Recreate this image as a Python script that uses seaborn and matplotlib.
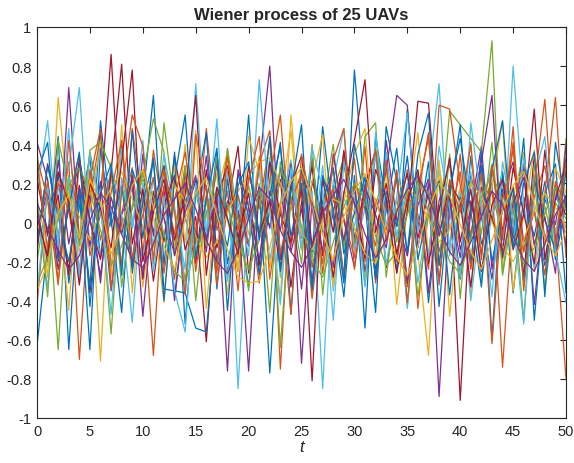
import numpy as np
import pandas as pd
import matplotlib
matplotlib.use("Agg")
import matplotlib.pyplot as plt
import seaborn as sns

# Time steps and per-UAV increments of the Wiener process
t = list(range(51))

uav01 = [-0.63, -0.12, 0.25, -0.31, 0.08, 0.33, -0.18, 0.02, 0.41, -0.26,
         0.14, -0.05, 0.29, -0.38, 0.11, 0.22, -0.09, 0.36, -0.21, 0.05,
         -0.33, 0.18, -0.77, 0.09, 0.27, -0.14, 0.31, -0.06, 0.19, -0.28,
         0.78, 0.12, -0.24, 0.06, 0.38, -0.17, 0.23, -0.41, 0.08, 0.15,
         -0.29, 0.34, -0.11, 0.02, 0.26, -0.36, 0.13, -0.07, 0.21, -0.19,
         0.10]
uav02 = [-0.42, 0.18, -0.07, 0.31, -0.70, 0.12, 0.45, -0.22, 0.05, 0.28,
         -0.16, 0.37, 0.03, -0.29, 0.21, -0.11, 0.48, -0.04, 0.16, -0.35,
         0.24, 0.07, 0.42, -0.75, 0.19, -0.08, 0.33, -0.26, 0.14, 0.02,
         -0.18, 0.39, -0.31, 0.11, -0.02, 0.27, -0.44, 0.09, 0.22, -0.13,
         0.35, -0.21, 0.06, 0.17, -0.09, 0.41, -0.27, 0.13, 0.29, -0.05,
         -0.80]
uav03 = [0.12, -0.28, 0.64, 0.08, -0.15, 0.22, -0.71, 0.31, -0.04, 0.19,
         -0.33, 0.06, 0.27, -0.12, 0.40, -0.19, 0.03, 0.25, -0.37, 0.14,
         -0.06, 0.34, -0.23, 0.10, 0.47, -0.14, 0.21, -0.01, -0.32, 0.16,
         0.05, -0.27, 0.38, -0.09, 0.23, 0.11, -0.16, -0.68, 0.29, -0.03,
         0.18, -0.38, 0.26, 0.07, -0.20, 0.13, 0.36, -0.25, 0.04, 0.20,
         -0.11]
uav04 = [0.41, 0.22, -0.18, 0.69, -0.09, 0.14, -0.31, 0.26, 0.03, -0.22,
         0.35, -0.07, 0.18, -0.40, 0.09, 0.24, -0.15, 0.31, -0.26, 0.06,
         -0.12, 0.28, 0.80, -0.19, 0.13, -0.34, 0.21, 0.04, -0.23, 0.37,
         -0.08, 0.16, -0.29, 0.42, 0.01, -0.17, 0.25, -0.36, 0.11, 0.30,
         -0.14, 0.07, 0.39, -0.24, 0.17, -0.05, 0.28, -0.42, 0.12, -0.01,
         0.33]
uav05 = [-0.20, 0.15, -0.65, 0.24, -0.08, 0.36, 0.11, -0.57, 0.19, -0.03,
         0.27, -0.21, 0.51, 0.08, -0.30, 0.16, -0.12, 0.34, 0.02, -0.25,
         0.19, -0.06, 0.30, -0.64, 0.12, 0.25, -0.18, 0.07, 0.40, -0.13,
         0.21, -0.32, 0.09, 0.28, -0.10, 0.17, -0.38, 0.04, -0.05, 0.57,
         0.50, 0.43, 0.36, 0.93, -0.27, 0.06, -0.15, 0.23, -0.34, 0.10,
         0.02]
uav06 = [0.05, -0.33, 0.17, 0.28, 0.69, -0.14, 0.09, -0.26, 0.38, 0.02,
         -0.19, 0.23, -0.08, 0.31, -0.37, 0.15, 0.06, -0.22, 0.26, -0.85,
         0.11, -0.04, 0.33, -0.28, 0.18, 0.07, -0.15, 0.29, -0.35, 0.13,
         -0.02, 0.24, -0.19, 0.36, -0.07, 0.20, -0.31, 0.08, 0.27, -0.12,
         0.16, -0.40, 0.05, 0.30, -0.18, 0.80, 0.09, -0.23, 0.14, -0.06,
         0.25]
uav07 = [-0.15, 0.30, 0.07, -0.24, 0.19, -0.36, 0.12, 0.86, -0.05, 0.23,
         -0.29, 0.16, -0.10, 0.34, 0.03, -0.21, 0.27, -0.13, 0.08, 0.39,
         -0.26, 0.14, -0.02, 0.22, -0.33, 0.10, 0.28, -0.17, 0.05, 0.32,
         -0.11, 0.19, 0.37, -0.23, 0.06, 0.25, -0.08, 0.15, -0.30, 0.21,
         -0.91, 0.11, -0.16, 0.29, -0.04, 0.18, -0.28, 0.35, -0.09, 0.13,
         0.04]
uav08 = [0.30, -0.07, 0.44, -0.65, 0.17, -0.33, 0.52, 0.02, -0.46, 0.27,
         0.12, 0.65, -0.22, 0.36, -0.52, 0.15, 0.46, -0.34, 0.22, -0.12,
         0.55, -0.27, 0.07, 0.41, -0.47, 0.28, -0.15, 0.49, 0.03, -0.38,
         0.24, -0.54, 0.44, 0.10, -0.25, 0.58, -0.03, 0.31, -0.43, 0.13,
         0.50, -0.22, 0.37, -0.60, 0.25, -0.07, 0.43, -0.50, 0.15, 0.30,
         -0.36]
uav09 = [-0.08, 0.21, -0.30, 0.13, 0.35, -0.17, 0.04, 0.26, -0.22, 0.48,
         0.10, -0.68, 0.19, -0.06, 0.29, -0.25, 0.14, -0.01, 0.37, -0.18,
         0.08, -0.31, 0.22, 0.55, -0.12, 0.16, -0.39, 0.06, 0.27, -0.10,
         0.33, -0.20, 0.12, -0.04, 0.24, -0.33, 0.18, 0.43, -0.15, 0.03,
         0.26, -0.24, 0.10, 0.20, -0.74, 0.07, 0.30, -0.12, 0.15, 0.64,
         -0.18]
uav10 = [0.38, -0.22, 0.12, -0.45, 0.31, 0.05, 0.42, -0.28, 0.50, -0.36,
         0.18, 0.03, -0.41, 0.29, -0.10, 0.47, -0.44, 0.15, 0.36, -0.25,
         0.44, 0.26, 0.09, -0.39, 0.55, -0.06, 0.21, 0.45, -0.33, 0.11,
         0.35, 0.48, -0.20, 0.27, -0.42, 0.08, 0.46, -0.17, 0.32, -0.48,
         0.07, 0.41, -0.30, 0.19, 0.52, -0.35, 0.04, 0.37, -0.12, 0.28,
         0.15]
uav11 = [-0.05, 0.16, -0.24, 0.09, 0.30, -0.12, 0.21, -0.35, 0.04, 0.18,
         -0.27, 0.13, 0.02, -0.16, 0.25, -0.08, 0.34, -0.20, 0.11, 0.06,
         -0.76, 0.19, -0.03, 0.28, -0.15, 0.07, -0.30, 0.22, 0.12, -0.09,
         0.17, -0.25, 0.05, 0.26, 0.65, 0.60, -0.13, 0.20, -0.89, 0.09,
         -0.18, 0.24, 0.03, -0.29, 0.14, 0.31, -0.10, 0.06, -0.22, 0.19,
         -0.12]
uav12 = [0.14, -0.38, 0.42, 0.18, -0.12, 0.37, 0.41, 0.28, -0.33, 0.09,
         0.24, 0.53, 0.36, -0.17, 0.29, -0.40, 0.12, -0.24, 0.38, 0.02,
         -0.35, 0.20, -0.46, 0.31, 0.10, -0.21, 0.40, -0.37, 0.16, 0.33,
         -0.13, 0.44, 0.51, -0.28, 0.13, -0.43, 0.25, 0.04, -0.22, 0.35,
         -0.39, 0.22, -0.06, 0.41, -0.26, 0.15, -0.50, 0.29, 0.08, -0.15,
         0.43]
uav13 = [0.14, 0.52, -0.09, 0.23, -0.31, 0.08, -0.17, 0.29, 0.03, -0.51,
         0.20, -0.12, 0.35, 0.06, -0.24, 0.71, -0.04, 0.18, -0.28, 0.12,
         0.02, 0.27, -0.19, 0.09, 0.32, -0.07, 0.16, -0.85, 0.21, 0.48,
         -0.14, 0.07, 0.34, -0.22, 0.13, 0.56, -0.05, 0.24, 0.71, -0.17,
         0.10, 0.26, -0.30, 0.04, 0.20, -0.12, 0.33, 0.07, -0.20, 0.15,
         -0.03]
uav14 = [0.22, -0.06, 0.14, -0.27, 0.33, 0.01, -0.19, 0.26, 0.81, -0.11,
         0.17, -0.30, 0.09, 0.24, -0.14, 0.03, -0.61, 0.13, 0.29, -0.08,
         0.15, -0.22, 0.31, 0.04, -0.10, 0.18, -0.81, 0.22, -0.05, 0.36,
         0.09, -0.18, 0.27, 0.13, -0.26, 0.06, 0.62, 0.61, -0.07, 0.20,
         0.11, -0.33, 0.18, 0.02, -0.15, 0.28, 0.05, -0.21, 0.37, -0.10,
         0.14]
uav15 = [-0.11, 0.29, 0.03, -0.20, 0.15, -0.65, 0.38, -0.02, 0.19, -0.23,
         0.10, 0.32, -0.34, -0.35, -0.36, -0.54, -0.56, 0.06, -0.12, 0.25,
         0.03, -0.26, 0.14, 0.39, -0.07, 0.20, -0.33, 0.11, 0.28, -0.16,
         0.05, 0.23, -0.28, 0.16, -0.02, 0.34, -0.19, 0.08, 0.21, -0.37,
         0.13, -0.08, 0.29, -0.20, 0.06, 0.17, -0.30, 0.22, 0.01, -0.14,
         0.27]
uav16 = [0.31, -0.14, 0.20, 0.06, -0.25, 0.27, -0.09, 0.15, 0.42, -0.18,
         0.04, 0.23, -0.26, 0.12, 0.36, -0.05, 0.19, -0.32, 0.08, 0.14,
         -0.11, 0.30, 0.47, -0.16, 0.10, 0.25, -0.23, 0.03, 0.17, -0.29,
         0.20, 0.07, -0.12, 0.32, -0.20, 0.14, 0.04, -0.24, 0.60, 0.58,
         0.19, -0.06, 0.25, -0.62, 0.11, 0.37, -0.15, 0.06, -0.27, 0.21,
         0.08]
uav17 = [-0.04, 0.10, 0.21, 0.15, 0.03, -0.09, 0.06, 0.18, 0.26, 0.12,
         -0.02, -0.13, 0.04, 0.19, 0.11, -0.07, -0.18, -0.10, 0.05, 0.16,
         0.24, 0.31, 0.33, 0.20, 0.08, -0.05, -0.14, 0.01, 0.12, 0.09,
         -0.03, -0.16, -0.21, -0.08, 0.07, 0.17, 0.13, 0.02, -0.10, -0.04,
         0.11, 0.20, 0.14, 0.00, -0.12, -0.20, -0.09, 0.06, 0.15, 0.08,
         -0.02]
uav18 = [0.07, -0.20, 0.32, -0.11, 0.18, 0.02, -0.27, 0.13, -0.06, 0.24,
         -0.48, 0.10, 0.29, -0.17, 0.05, 0.21, -0.09, 0.14, -0.76, 0.27,
         0.08, -0.19, 0.16, -0.04, 0.30, -0.72, 0.12, -0.15, 0.35, 0.01,
         -0.23, 0.18, 0.04, -0.13, 0.26, -0.31, 0.09, 0.22, -0.06, 0.14,
         -0.28, 0.05, 0.31, 0.65, -0.18, 0.10, 0.23, -0.11, 0.03, -0.26,
         0.40]
uav19 = [-0.31, -0.18, 0.02, 0.19, 0.28, 0.16, -0.04, -0.22, -0.12, 0.07,
         0.22, 0.13, -0.06, -0.25, -0.30, -0.14, 0.05, 0.17, 0.09, -0.11,
         -0.24, -0.09, 0.10, 0.26, 0.18, -0.02, -0.19, -0.28, -0.10, 0.08,
         0.20, 0.12, -0.07, -0.22, -0.15, 0.04, 0.21, 0.15, -0.03, -0.20,
         -0.26, -0.08, 0.13, 0.25, 0.11, -0.06, -0.21, -0.13, 0.05, 0.18,
         0.06]
uav20 = [-0.36, 0.18, -0.12, 0.48, -0.27, 0.35, 0.08, -0.47, 0.23, -0.03,
         0.42, -0.25, 0.13, -0.35, -0.56, 0.20, -0.05, 0.53, -0.30, 0.10,
         -0.17, 0.73, 0.05, -0.42, 0.28, -0.13, 0.38, 0.17, -0.50, 0.31,
         0.12, -0.33, 0.46, -0.02, 0.25, -0.44, 0.20, -0.18, 0.39, 0.07,
         -0.28, 0.51, 0.10, -0.38, 0.31, 0.02, -0.52, 0.23, 0.44, -0.15,
         -0.41]
uav21 = [0.03, -0.17, 0.26, 0.10, -0.32, 0.20, 0.07, -0.13, 0.31, 0.78,
         -0.20, 0.05, 0.22, -0.09, 0.14, 0.65, -0.27, 0.18, 0.02, -0.16,
         0.29, -0.06, 0.11, -0.23, 0.19, 0.34, -0.12, 0.08, -0.28, 0.15,
         0.42, 0.73, -0.05, 0.20, -0.16, 0.11, 0.27, -0.21, 0.06, 0.33,
         -0.10, 0.17, -0.25, 0.09, 0.22, -0.14, 0.04, 0.58, -0.19, 0.12,
         0.30]
uav22 = [0.25, 0.41, -0.20, 0.07, 0.36, -0.43, 0.15, 0.30, -0.27, 0.47,
         -0.08, 0.33, -0.40, 0.22, 0.55, -0.18, 0.12, 0.38, -0.45, 0.19,
         0.31, -0.09, 0.44, -0.25, 0.16, 0.50, -0.35, 0.24, 0.07, -0.31,
         0.40, 0.10, -0.46, 0.49, 0.21, -0.15, 0.35, 0.56, -0.22, 0.17,
         0.43, 0.06, -0.33, 0.27, 0.52, -0.13, 0.20, 0.36, -0.38, 0.41,
         0.08]
uav23 = [0.33, 0.12, -0.32, 0.42, -0.09, 0.22, 0.48, -0.34, 0.15, 0.55,
         0.39, -0.19, 0.27, 0.05, -0.37, 0.45, 0.17, -0.26, 0.34, -0.04,
         0.21, 0.44, -0.29, 0.10, -0.47, 0.35, 0.07, -0.21, 0.32, 0.48,
         -0.24, 0.15, 0.37, -0.10, 0.27, -0.41, 0.13, 0.46, -0.32, 0.22,
         0.05, 0.40, -0.19, 0.29, -0.07, 0.49, -0.35, 0.19, 0.63, -0.12,
         0.31]
uav24 = [-0.35, -0.21, 0.05, 0.14, -0.08, 0.22, 0.10, -0.16, -0.03, 0.19,
         0.27, 0.08, -0.12, -0.24, 0.02, 0.15, 0.23, 0.04, -0.14, -0.28,
         -0.31, -0.30, -0.13, 0.09, 0.21, 0.28, 0.12, -0.06, -0.19, 0.03,
         0.16, 0.25, 0.11, -0.05, -0.18, -0.27, -0.12, 0.07, 0.20, 0.14,
         -0.01, -0.15, -0.24, -0.09, 0.06, 0.19, 0.26, 0.10, -0.08, -0.17,
         -0.04]
uav25 = [0.10, -0.03, -0.14, -0.24, -0.17, 0.01, 0.15, 0.08, -0.06, -0.19,
         -0.23, -0.11, 0.04, 0.12, 0.20, 0.07, -0.09, -0.20, -0.26, -0.14,
         0.02, 0.18, 0.12, -0.04, -0.15, -0.23, -0.12, 0.05, 0.14, 0.22,
         0.10, -0.06, -0.18, -0.09, 0.06, 0.17, 0.24, 0.13, -0.02, -0.15,
         -0.22, -0.10, 0.03, 0.16, 0.09, -0.07, -0.19, -0.25, -0.11, 0.04,
         0.13]

uavs = [uav01, uav02, uav03, uav04, uav05, uav06, uav07, uav08, uav09, uav10,
        uav11, uav12, uav13, uav14, uav15, uav16, uav17, uav18, uav19, uav20,
        uav21, uav22, uav23, uav24, uav25]

x_ticks = list(range(0, 51, 5))
y_ticks = [-1, -0.8, -0.6, -0.4, -0.2, 0, 0.2, 0.4, 0.6, 0.8, 1]
y_tick_labels = ["-1", "-0.8", "-0.6", "-0.4", "-0.2", "0", "0.2", "0.4", "0.6", "0.8", "1"]

# MATLAB-style default colour order, cycled over the 25 traces
line_colors = ["#0072BD", "#D95319", "#EDB120", "#7E2F8E",
               "#77AC30", "#4DBEEE", "#A2142F"]

rows = []
for k, vals in enumerate(uavs):
    assert len(vals) == len(t), (k, len(vals))
    for ti, v in zip(t, vals):
        rows.append({"t": ti, "w": v, "uav": f"UAV {k + 1}"})
df = pd.DataFrame(rows)

sns.set_style("white")
plt.rcParams["font.family"] = ["Liberation Sans", "DejaVu Sans"]
plt.rcParams["axes.unicode_minus"] = False

fig = plt.figure(figsize=(5.74, 4.64), dpi=100)
ax = fig.add_axes([0.0645, 0.097, 0.9216, 0.8427])

palette = [line_colors[i % len(line_colors)] for i in range(len(uavs))]
sns.lineplot(data=df, x="t", y="w", hue="uav", palette=palette,
             estimator=None, sort=False, legend=False, linewidth=0.9, ax=ax)

ax.set_xlim(0, 50)
ax.set_ylim(-1, 1)
ax.set_xticks(x_ticks)
ax.set_yticks(y_ticks)
ax.set_yticklabels(y_tick_labels)
ax.tick_params(direction="in", length=4, width=0.8, colors="#262626",
               labelsize=10.5, top=True, right=True, pad=4)
for side in ["left", "right", "top", "bottom"]:
    ax.spines[side].set_color("#262626")
    ax.spines[side].set_linewidth(0.8)
    ax.spines[side].set_visible(True)

ax.set_xlabel("t", fontstyle="italic", fontsize=12, color="#262626", labelpad=1)
ax.set_ylabel("")
ax.set_title("Wiener process of 25 UAVs", fontweight="bold", fontsize=12, pad=6)

fig.savefig("out.png", dpi=100)
